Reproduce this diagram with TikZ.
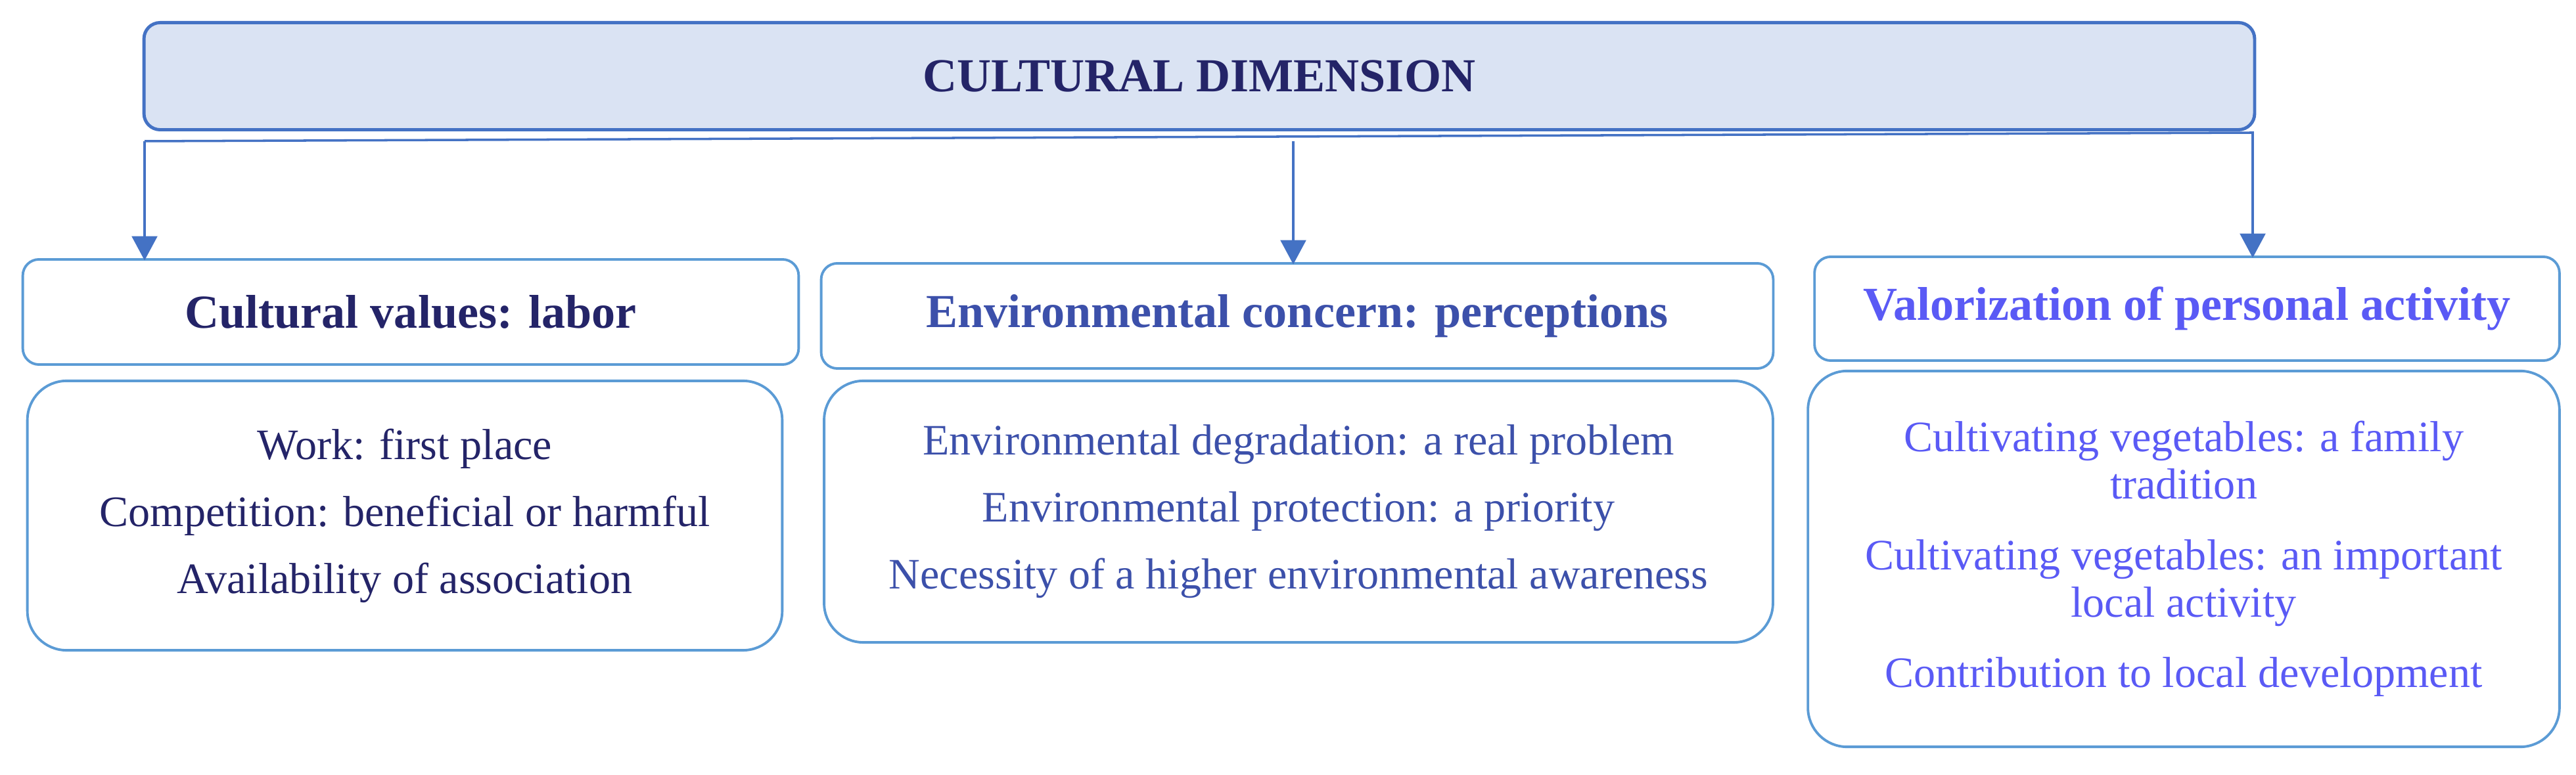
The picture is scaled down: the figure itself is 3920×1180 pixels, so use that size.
\documentclass[tikz,border=0pt]{standalone}
\usepackage{fontspec}
\setmainfont{Liberation Serif}
\usetikzlibrary{arrows.meta}
\definecolor{topfill}{HTML}{DAE3F3}
\definecolor{topdraw}{HTML}{4472C4}
\definecolor{boxdraw}{HTML}{5B9BD5}
\definecolor{navytxt}{RGB}{36,36,104}
\definecolor{midtxt}{RGB}{60,80,170}
\definecolor{viotxt}{RGB}{90,90,245}
\tikzset{
  topbox/.style={draw=topdraw, fill=topfill, line width=1.4pt, rounded corners=7pt, inner sep=0pt},
  headbox/.style={draw=boxdraw, line width=1.1pt, rounded corners=7pt, inner sep=0pt, align=center},
  contbox/.style={draw=boxdraw, line width=1.1pt, rounded corners=17pt, inner sep=0pt, align=center},
  conn/.style={draw=topdraw, line width=1pt},
  arr/.style={conn, -{Triangle[width=11pt,length=10.5pt]}},
  headfont/.style={font=\fontsize{20.5}{24}\selectfont\bfseries},
  contfont/.style={font=\fontsize{18.8}{29}\selectfont},
  rcontfont/.style={font=\fontsize{18.8}{20.5}\selectfont},
}
\begin{document}
\begin{tikzpicture}[x=0.01cm,y=-0.01cm]
\useasboundingbox (0,0) rectangle (3920,1180);
% top box
\node[topbox, minimum width=32.1cm, minimum height=1.63cm, text=navytxt, headfont] (top) at (1825,116) {CULTURAL DIMENSION};
% headers
\node[headbox, minimum width=11.8cm, minimum height=1.6cm, text=navytxt, headfont] (lh) at (625,475) {Cultural values: labor};
\node[headbox, minimum width=14.48cm, minimum height=1.6cm, text=midtxt, headfont] (mh) at (1974,481) {Environmental concern: perceptions};
\node[headbox, minimum width=11.33cm, minimum height=1.58cm, text=viotxt, headfont] (rh) at (3328,470) {Valorization of personal activity};
% contents
\node[contbox, minimum width=11.48cm, minimum height=4.1cm, text=navytxt, contfont] (lc) at (616,785)
  {Work: first place\\Competition: beneficial or harmful\\Availability of association};
\node[contbox, minimum width=14.43cm, minimum height=3.98cm, text=midtxt, contfont] (mc) at (1976,779)
  {Environmental degradation: a real problem\\Environmental protection: a priority\\Necessity of a higher environmental awareness};
\node[contbox, minimum width=11.43cm, minimum height=5.72cm, text=viotxt, rcontfont] (rc) at (3323,851)
  {Cultivating vegetables: a family\\tradition\\[10pt]Cultivating vegetables: an important\\local activity\\[10pt]Contribution to local development};
% connectors
\coordinate (jl) at (220,215);
\coordinate (jm) at (1968,215);
\coordinate (jr) at (3428,202);
\draw[conn] (jl) -- (jr);
\draw[arr] (jl) -- ([yshift=-1pt]jl |- lh.north);
\draw[arr] (jm) -- ([yshift=-1pt]jm |- mh.north);
\draw[arr] (top.south -| jr) -- ([yshift=-1pt]jr |- rh.north);
\end{tikzpicture}
\end{document}
